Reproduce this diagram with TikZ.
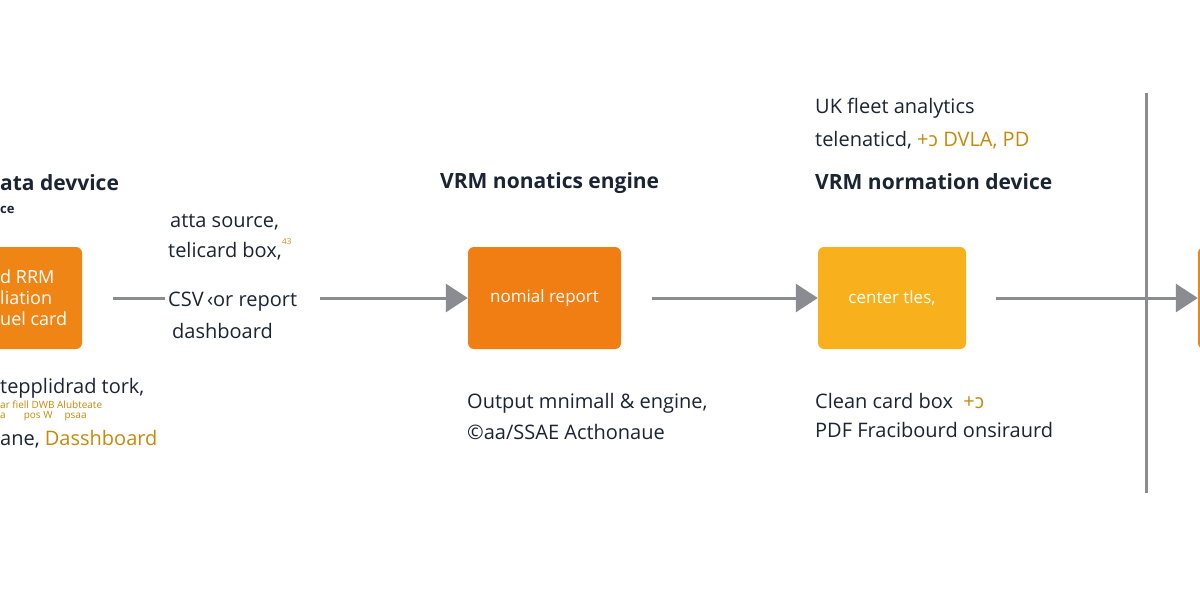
\documentclass[tikz,border=0pt]{standalone}
\usepackage{fontspec}
\usepackage{graphicx}
\setmainfont{Open Sans}
\usetikzlibrary{arrows.meta}
\definecolor{ink}{HTML}{1B2433}
\definecolor{gold}{HTML}{C48A0C}
\definecolor{ora}{HTML}{EF8514}
\definecolor{yel}{HTML}{F8B01C}
\definecolor{gr}{HTML}{8A8C92}
\newcommand{\revc}{\reflectbox{c}}
\begin{document}
\begin{tikzpicture}[x=1pt,y=-1pt,
  txt/.style={anchor=west,inner sep=0pt,text=ink,font=\fontsize{20}{23}\selectfont},
  ttl/.style={txt,font=\fontsize{21}{24}\selectfont\bfseries},
  sm/.style={anchor=west,inner sep=0pt,text=gold,font=\fontsize{10}{11}\selectfont},
  box/.style={rounded corners=6pt,minimum width=#1,minimum height=102pt,inner sep=0pt,text=white,font=\fontsize{17}{20}\selectfont},
  arr/.style={gr,line width=3pt,-{Triangle[length=22pt,width=28pt]}}]
\useasboundingbox[fill=white] (0,0) rectangle (1200,600);
% boxes
\node[box=120pt,fill=ora] (b1) at (22,298) {};
\node[box=153pt,fill=ora!95!red] (b2) at (544.5,298) {nomial report};
\node[box=148pt,fill=yel] (b3) at (892,298) {center tles,};
\node[box=40pt,fill=ora] (b4) at (1218,298) {};
% box1 text
\node[anchor=west,inner sep=0pt,text=white,font=\fontsize{18}{21}\selectfont,align=left] (b1t) at (0,298) {d RRM\\liation\\uel card};
% divider
\coordinate (vt) at (1146,93); \coordinate (vb) at (1146,493);
\draw[gr,line width=3pt] (vt) -- (vb);
% connectors
\coordinate (c1a) at (113,298); \coordinate (c1b) at (165,298);
\coordinate (c2a) at (320,298);
\coordinate (c3a) at (652,298);
\coordinate (c4a) at (996,298);
\draw[gr,line width=3pt] (c1a) -- (c1b);
\draw[arr] (c2a) -- (b2.west);
\draw[arr] (c3a) -- (b3.west);
\draw[arr] (c4a) -- (b4.west);
% left texts
\node[ttl] (t1) at (0,183) {ata devvice};
\node[txt,font=\fontsize{13}{15}\selectfont\bfseries] (t1b) at (0,210) {ce};
\node[txt] (s1) at (170,222) {atta source,};
\node[txt] (s2) at (168,251) {telicard box,};
\node[sm,font=\fontsize{8}{9}\selectfont] (s2s) at (s2.north east) {43};
\node[txt] (s3) at (168,302) {CSV\,‹or report};
\node[txt] (s4) at (172,331) {dashboard};
\node[txt] (l1) at (0,388) {tepplidrad tork,};
\node[sm] (l2) at (0,405) {ar fiell DWB Alubteate};
\node[sm] (l3) at (0,416) {a\hspace{18pt}pos W\hspace{12pt}psaa};
\node[txt] (l4) at (0,439) {ane, \textcolor{gold}{Dasshboard}};
% middle
\node[ttl] (t2) at (440,183) {VRM nonatics engine};
\node[txt] (m1) at (467,403) {Output mnimall \& engine,};
\node[txt] (m2) at (467,432) {©aa/SSAE Acthonaue};
% right
\node[txt] (r1) at (815,108) {UK fleet analytics};
\node[txt] (r2) at (815,140) {telenaticd, \textcolor{gold}{+\revc\ DVLA, PD}};
\node[ttl] (t3) at (815,182) {VRM normation device};
\node[txt] (r3) at (815,401) {Clean card box \ \textcolor{gold}{+\revc}};
\node[txt] (r4) at (815,430) {PDF Fracibourd onsiraurd};
\end{tikzpicture}
\end{document}
